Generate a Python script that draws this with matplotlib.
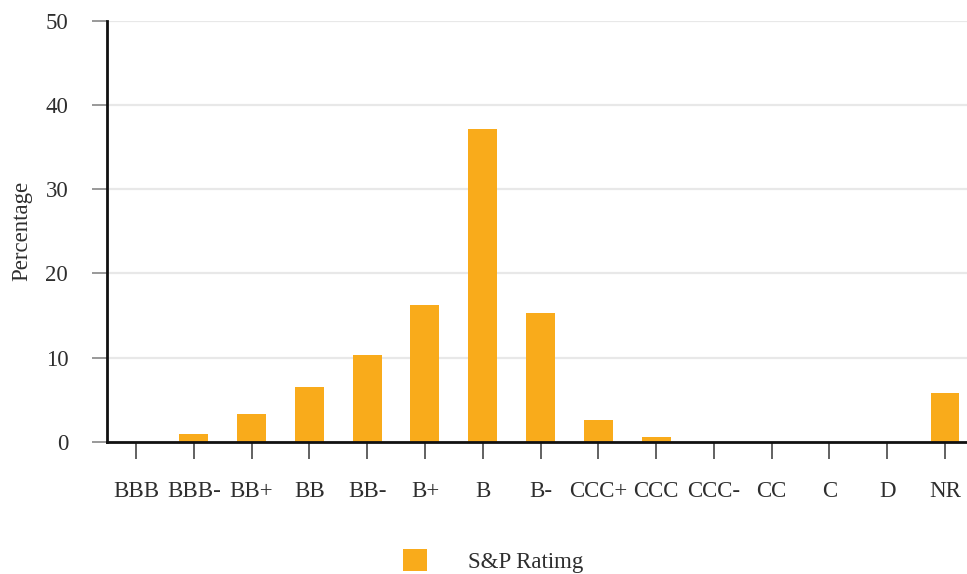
import matplotlib
matplotlib.use("Agg")
import matplotlib.pyplot as plt
from matplotlib.patches import Patch

categories = ["BBB", "BBB-", "BB+", "BB", "BB-", "B+", "B", "B-",
              "CCC+", "CCC", "CCC-", "CC", "C", "D", "NR"]
values = [0.0, 0.95, 3.35, 6.5, 10.3, 16.3, 37.2, 15.3,
          2.6, 0.55, 0.0, 0.0, 0.0, 0.0, 5.8]
y_ticks = [0, 10, 20, 30, 40, 50]
series_name = "S&P Ratimg"
y_label = "Percentage"

BAR = "#F9AB1B"
FONT = "Liberation Serif"
TXT = "#2e2e2e"
FS = 16.5

W, H = 967, 574
fig = plt.figure(figsize=(W / 100, H / 100), dpi=100)
left = 107.1 / W
right = 973.9 / W
bottom = 1 - 442.0 / H
top = 1 - 20.7 / H
ax = fig.add_axes([left, bottom, right - left, top - bottom])

x = list(range(len(categories)))
ax.bar(x, values, width=0.5, color=BAR, zorder=3)

ax.set_xlim(-0.5, len(categories) - 0.5)
ax.set_ylim(0, 50)
ax.set_yticks(y_ticks)
ax.set_yticklabels([str(v) for v in y_ticks])
ax.set_xticks(x)
ax.set_xticklabels(categories)

for s in ["top", "right"]:
    ax.spines[s].set_visible(False)
for s in ["left", "bottom"]:
    ax.spines[s].set_color("#111111")
    ax.spines[s].set_linewidth(2.0)
    ax.spines[s].set_zorder(4)

ax.grid(axis="y", color="#e8e8e8", linewidth=1.6, zorder=0)
ax.set_axisbelow(True)

ax.tick_params(axis="y", length=11, width=1.2, color="#888888", pad=17,
               labelsize=FS, labelcolor=TXT)
ax.tick_params(axis="x", length=12, width=1.3, color="#555555", pad=16,
               labelsize=FS, labelcolor=TXT)
for lab in ax.get_xticklabels() + ax.get_yticklabels():
    lab.set_fontfamily(FONT)

fig.text(22 / W, 1 - 231 / H, y_label, rotation=90, ha="center", va="center",
         fontsize=FS, fontfamily=FONT, color=TXT)

handle = Patch(facecolor=BAR, edgecolor="none", label=series_name)
fig.legend(handles=[handle], loc="center left",
           bbox_to_anchor=(403 / W, 1 - 561 / H),
           frameon=False, borderpad=0, borderaxespad=0,
           handlelength=1.05, handleheight=1.05, handletextpad=1.8,
           prop={"family": FONT, "size": FS}, labelcolor=TXT)

fig.savefig("out.png", dpi=100)
